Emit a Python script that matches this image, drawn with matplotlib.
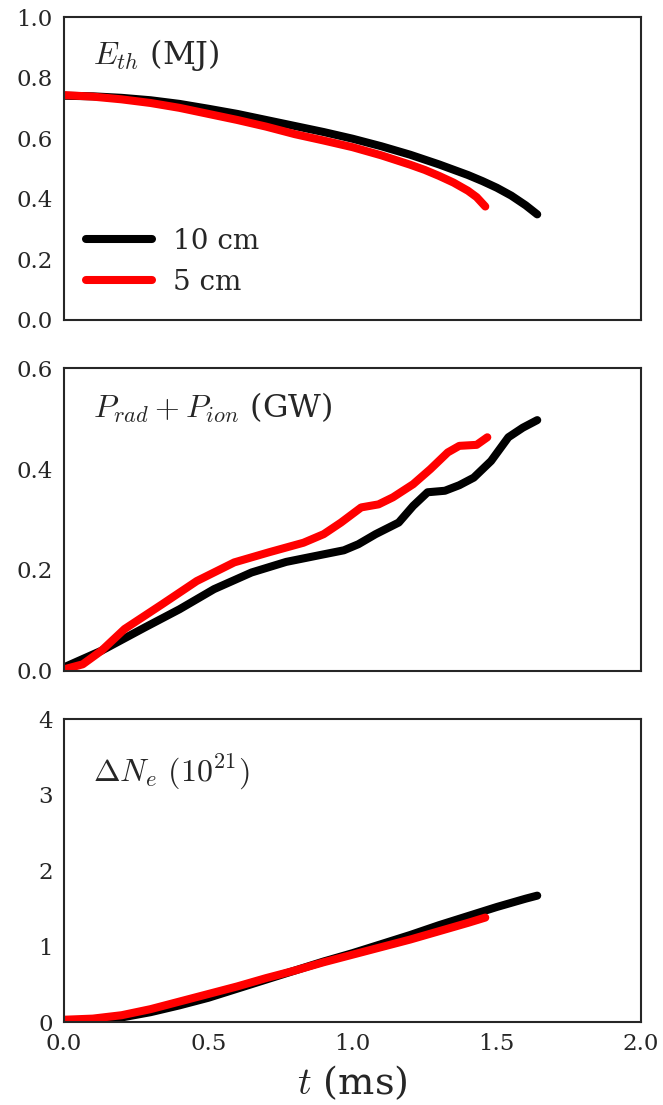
import matplotlib
matplotlib.use('Agg')
import matplotlib.pyplot as plt
import seaborn as sns

# Thermal energy (MJ)
t_eth_10 = [0.0, 0.1, 0.2, 0.3, 0.4, 0.5, 0.6, 0.7, 0.8, 0.9, 1.0, 1.1, 1.2,
            1.3, 1.4, 1.45, 1.5, 1.55, 1.6, 1.64]
eth_10 = [0.740, 0.738, 0.733, 0.725, 0.713, 0.697, 0.680, 0.660, 0.640, 0.620,
          0.598, 0.573, 0.545, 0.513, 0.478, 0.458, 0.436, 0.410, 0.378, 0.348]
t_eth_5 = [0.0, 0.1, 0.2, 0.3, 0.4, 0.5, 0.6, 0.7, 0.8, 0.9, 1.0, 1.1, 1.2,
           1.25, 1.3, 1.35, 1.4, 1.43, 1.46]
eth_5 = [0.742, 0.737, 0.728, 0.716, 0.700, 0.680, 0.660, 0.638, 0.613, 0.592,
         0.570, 0.543, 0.512, 0.495, 0.475, 0.453, 0.426, 0.405, 0.374]

# Radiated + ionisation power (GW)
t_pow_10 = [0.0, 0.13, 0.28, 0.4, 0.52, 0.65, 0.77, 0.9, 0.97, 1.02, 1.08,
            1.16, 1.21, 1.26, 1.32, 1.37, 1.42, 1.48, 1.54, 1.59, 1.64]
pow_10 = [0.007, 0.040, 0.086, 0.122, 0.162, 0.195, 0.216, 0.231, 0.239, 0.251,
          0.271, 0.294, 0.327, 0.354, 0.357, 0.368, 0.383, 0.416, 0.463, 0.482,
          0.497]
t_pow_5 = [0.0, 0.065, 0.13, 0.21, 0.34, 0.46, 0.59, 0.71, 0.83, 0.9, 0.96,
           1.03, 1.09, 1.14, 1.21, 1.27, 1.33, 1.37, 1.43, 1.467]
pow_5 = [0.003, 0.013, 0.040, 0.083, 0.132, 0.178, 0.215, 0.235, 0.254, 0.271,
         0.294, 0.324, 0.330, 0.344, 0.370, 0.400, 0.433, 0.446, 0.448, 0.463]

# Change in electron number (1e21)
t_ne_10 = [0.0, 0.1, 0.2, 0.3, 0.4, 0.5, 0.6, 0.7, 0.8, 0.9, 1.0, 1.1, 1.2,
           1.3, 1.4, 1.5, 1.6, 1.64]
ne_10 = [0.02, 0.03, 0.06, 0.13, 0.22, 0.32, 0.44, 0.56, 0.68, 0.80, 0.91,
         1.03, 1.15, 1.28, 1.40, 1.52, 1.63, 1.67]
t_ne_5 = [0.0, 0.1, 0.2, 0.3, 0.4, 0.5, 0.6, 0.7, 0.8, 0.9, 1.0, 1.1, 1.2,
          1.3, 1.4, 1.46]
ne_5 = [0.03, 0.045, 0.09, 0.17, 0.27, 0.37, 0.47, 0.58, 0.68, 0.79, 0.89,
        0.99, 1.09, 1.20, 1.31, 1.38]

labels = ['10 cm', '5 cm']
colors = ['black', 'red']


def main():
    sns.set_style('white')
    plt.rcParams['font.family'] = ['DejaVu Serif']
    plt.rcParams['mathtext.fontset'] = 'cm'
    plt.rcParams['axes.edgecolor'] = '#262626'
    plt.rcParams['axes.linewidth'] = 1.5

    fig, axes = plt.subplots(nrows=3, ncols=1, sharex=True, figsize=[6.63, 11.05], dpi=100)
    fig.subplots_adjust(left=0.0965, right=0.967, top=0.9846, bottom=0.0751, hspace=0.16)

    panels = [
        (axes[0], [(t_eth_10, eth_10), (t_eth_5, eth_5)], r'$E_{th}$ (MJ)',
         (0.0, 1.0), [0.0, 0.2, 0.4, 0.6, 0.8, 1.0], (0.05, 0.875)),
        (axes[1], [(t_pow_10, pow_10), (t_pow_5, pow_5)], r'$P_{rad}+P_{ion}$ (GW)',
         (0.0, 0.6), [0.0, 0.2, 0.4, 0.6], (0.05, 0.868)),
        (axes[2], [(t_ne_10, ne_10), (t_ne_5, ne_5)], r'$\Delta N_e$ $(10^{21})$',
         (0.0, 4.0), [0, 1, 2, 3, 4], (0.05, 0.823)),
    ]

    for ax, series, title, ylim, yticks, textpos in panels:
        for (t, y), label, color in zip(series, labels, colors):
            ax.plot(t, y, color=color, lw=5.8, solid_capstyle='round',
                    solid_joinstyle='round', label=label)
        ax.set_ylim(*ylim)
        ax.set_yticks(yticks)
        ax.text(textpos[0], textpos[1], title, transform=ax.transAxes,
                fontsize=23, color='#262626', va='center', ha='left')
        ax.tick_params(axis='both', labelsize=16.5, colors='#262626', length=0, pad=8)

    axes[0].set_yticklabels(['0.0', '0.2', '0.4', '0.6', '0.8', '1.0'])
    axes[1].set_yticklabels(['0.0', '0.2', '0.4', '0.6'])

    axes[0].legend(loc='lower left', bbox_to_anchor=(-0.01, -0.012), fontsize=20,
                   frameon=False, handlelength=2.37, handletextpad=0.75,
                   labelspacing=0.5, borderaxespad=0.6)

    axes[2].set_xlim(0.0, 2.0)
    axes[2].set_xticks([0.0, 0.5, 1.0, 1.5, 2.0])
    axes[2].set_xlabel(r'$t$ (ms)', fontsize=27.5, color='#262626', labelpad=6)

    fig.savefig('out.png', dpi=100)


if __name__ == '__main__':
    main()
